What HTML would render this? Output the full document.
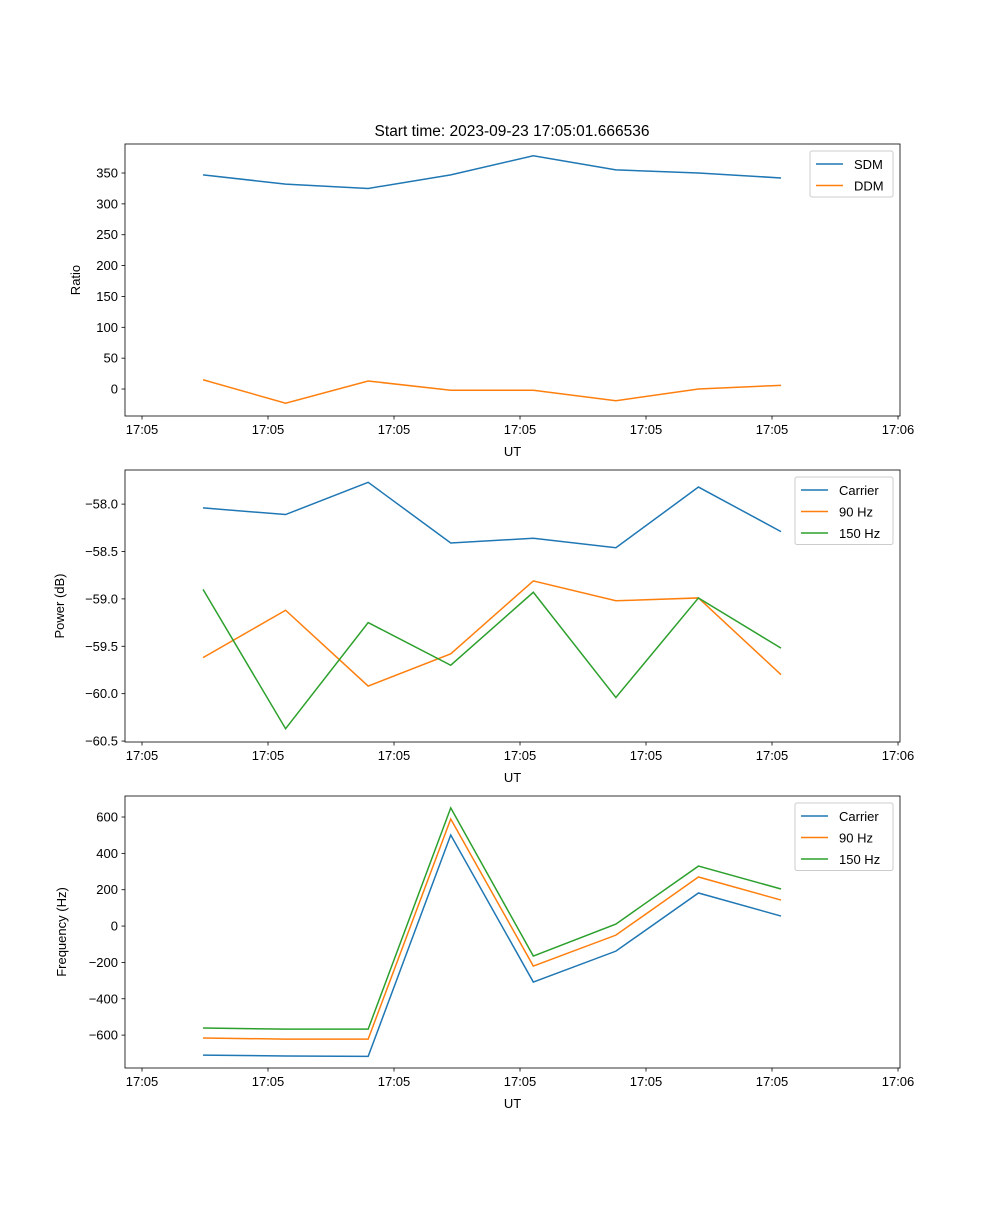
<!DOCTYPE html>
<html><head><meta charset="utf-8"><style>
html,body{margin:0;padding:0;background:#fff;}
svg text{font-family:"Liberation Sans","DejaVu Sans",sans-serif;}
</style></head><body>
<svg id="fig" width="1000" height="1200" xmlns="http://www.w3.org/2000/svg"></svg>
<script>
const xTickLabels = ["17:05","17:05","17:05","17:05","17:05","17:05","17:06"];
const sampleIndex = [0,1,2,3,4,5,6,7];
const sdm = [347,332,325,347,378,355,350,342];
const ddm = [15,-23,13,-2,-2,-19,0,6];
const ratioTicks = [0,50,100,150,200,250,300,350];
const pwrCarrier = [-58.04,-58.11,-57.77,-58.41,-58.36,-58.46,-57.82,-58.29];
const pwr90 = [-59.62,-59.12,-59.92,-59.58,-58.81,-59.02,-58.99,-59.80];
const pwr150 = [-58.90,-60.37,-59.25,-59.70,-58.93,-60.04,-58.99,-59.52];
const pwrTicks = [-58.0,-58.5,-59.0,-59.5,-60.0,-60.5];
const frqCarrier = [-710,-715,-717,501,-308,-138,182,55];
const frq90 = [-616,-622,-622,589,-220,-50,270,143];
const frq150 = [-561,-567,-567,650,-165,11,330,204];
const frqTicks = [600,400,200,0,-200,-400,-600];

const NS="http://www.w3.org/2000/svg";
const svg=document.getElementById('fig');
function mk(tag,attrs,parent){const e=document.createElementNS(NS,tag);for(const k in attrs)e.setAttribute(k,attrs[k]);(parent||svg).appendChild(e);return e;}
const L=125,R=900;
const xMin=-0.945,xMax=8.441;
const xTickStart=-0.739,xTickStep=1.526;
function xs(v){return L+(v-xMin)/(xMax-xMin)*(R-L);}
const C1="#1f77b4",C2="#ff7f0e",C3="#2ca02c";

function panel(name,top,bot,yMin,yMax,yTicks,fmt,ylabel,ylabelX,series,legend){
  const g=mk('g',{});
  
  
  const ys=v=>bot-(v-yMin)/(yMax-yMin)*(bot-top);
  for(const s of series){
    const pts=s.vals.map((v,i)=>xs(sampleIndex[i]).toFixed(2)+','+ys(v).toFixed(2)).join(' ');
    const p=mk('polyline',{points:pts,fill:'none',stroke:s.color,'stroke-width':1.5},g);
    
    
  }
  const fr=mk('rect',{x:L,y:top,width:R-L,height:bot-top,fill:'none',stroke:'#000','stroke-width':0.8},g);
  
  
  xTickLabels.forEach((lab,k)=>{
    const x=xs(xTickStart+k*xTickStep);
    mk('line',{x1:x,x2:x,y1:bot,y2:bot+3.5,stroke:'#000','stroke-width':0.8},g);
    const t=mk('text',{x:x,y:bot+18,'font-size':13,'text-anchor':'middle'},g);
    t.textContent=lab;
    
    
  });
  const xl=mk('text',{x:(L+R)/2,y:bot+40,'font-size':13,'text-anchor':'middle'},g);
  xl.textContent='UT';
  
  
  yTicks.forEach(v=>{
    const y=ys(v);
    mk('line',{x1:L-3.5,x2:L,y1:y,y2:y,stroke:'#000','stroke-width':0.8},g);
    const t=mk('text',{x:L-7,y:y+4.5,'font-size':13,'text-anchor':'end'},g);
    t.textContent=fmt(v);
    
    
  });
  const yl=mk('text',{x:ylabelX,y:(top+bot)/2,'font-size':13,'text-anchor':'middle',transform:`rotate(-90 ${ylabelX} ${(top+bot)/2})`},g);
  yl.textContent=ylabel;
  
  
  const lg=mk('g',{},g);
  
  
  mk('rect',{x:legend.x,y:top+7,width:R-7-legend.x,height:series.length*21.5+3,fill:'#fff',stroke:'#ccc','stroke-width':1,rx:2},lg);
  series.forEach((s,i)=>{
    const y=top+7+13+i*21.5;
    mk('line',{x1:legend.x+6,x2:legend.x+33,y1:y,y2:y,stroke:s.color,'stroke-width':1.5},lg);
    const t=mk('text',{x:legend.x+44,y:y+5,'font-size':13},lg);
    t.textContent=s.label;
    
    
  });
}
const title=mk('text',{x:512,y:136,'font-size':15.5,'text-anchor':'middle'});
title.textContent='Start time: 2023-09-23 17:05:01.666536';



panel('ratio-panel',144,416,-43.7,397,ratioTicks,v=>String(v).replace('-','\u2212'),'Ratio',80,
 [{id:'sdm',label:'SDM',vals:sdm,color:C1},{id:'ddm',label:'DDM',vals:ddm,color:C2}],{x:810});
panel('power-panel',470,742,-60.51,-57.64,pwrTicks,v=>v.toFixed(1).replace('-','\u2212'),'Power (dB)',64,
 [{id:'power-carrier',label:'Carrier',vals:pwrCarrier,color:C1},{id:'power-90hz',label:'90 Hz',vals:pwr90,color:C2},{id:'power-150hz',label:'150 Hz',vals:pwr150,color:C3}],{x:795});
panel('frequency-panel',796,1068,-781,715.6,frqTicks,v=>String(v).replace('-','\u2212'),'Frequency (Hz)',66,
 [{id:'freq-carrier',label:'Carrier',vals:frqCarrier,color:C1},{id:'freq-90hz',label:'90 Hz',vals:frq90,color:C2},{id:'freq-150hz',label:'150 Hz',vals:frq150,color:C3}],{x:795});
</script>
</body></html>
